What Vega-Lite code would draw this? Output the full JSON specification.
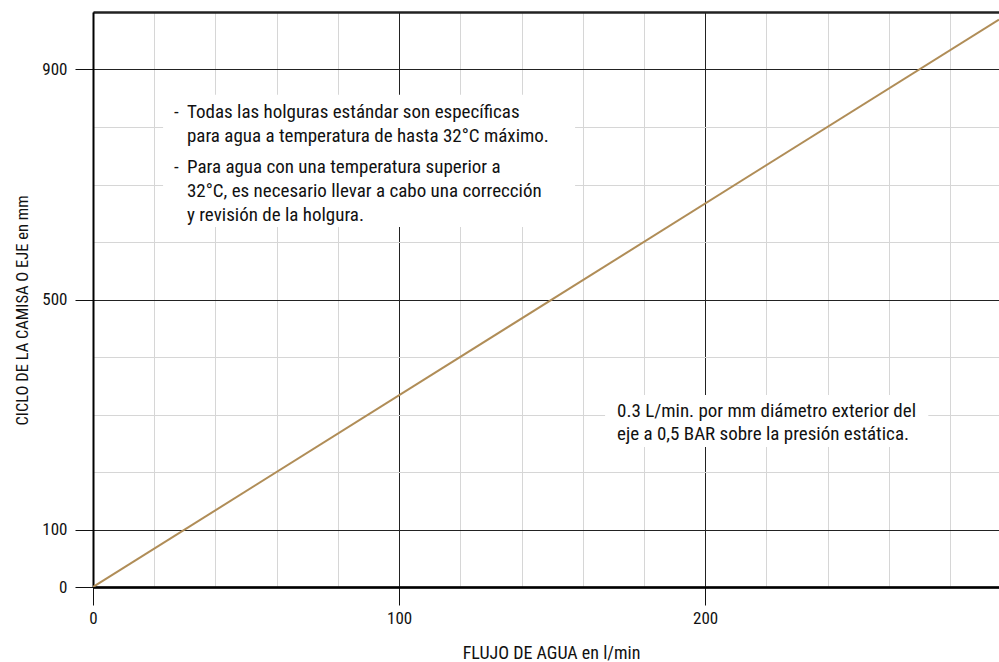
{
  "$schema": "https://vega.github.io/schema/vega-lite/v6.json",
  "width": 906,
  "height": 575,
  "autosize": {"type": "none"},
  "padding": {"left": 93, "top": 12, "right": 0, "bottom": 75},
  "background": "white",
  "config": {
    "view": {"stroke": null},
    "font": "Liberation Sans Narrow, Roboto Condensed, Arial Narrow, sans-serif",
    "text": {"font": "Liberation Sans Narrow, Roboto Condensed, Arial Narrow, sans-serif"}
  },
  "layer": [
    {
      "data": {"values": [{"flujo": 0, "ciclo": 0}, {"flujo": 296, "ciclo": 987}]},
      "mark": {"type": "line", "color": "#B08D57", "strokeWidth": 2, "clip": true},
      "encoding": {
        "x": {
          "field": "flujo",
          "type": "quantitative",
          "scale": {"domain": [0, 296], "nice": false, "zero": true},
          "axis": {
            "title": "FLUJO DE AGUA en l/min",
            "values": [0, 20, 40, 60, 80, 100, 120, 140, 160, 180, 200, 220, 240, 260, 280],
            "labelExpr": "datum.value % 100 === 0 ? datum.label : ''",
            "labelFlush": false,
            "labelOverlap": false,
            "labelFontSize": 17,
            "labelColor": "#111",
            "labelPadding": 5,
            "tickSize": 18,
            "tickColor": "#111",
            "tickWidth": 1,
            "tickOpacity": {"condition": {"test": "datum.value % 100 === 0", "value": 1}, "value": 0},
            "domainColor": "#000",
            "domainWidth": 2,
            "grid": true,
            "gridColor": {"condition": {"test": "datum.value % 100 === 0", "value": "#222"}, "value": "#d6d6d6"},
            "gridWidth": 1,
            "titleFontSize": 18,
            "titleFontWeight": "normal",
            "titleColor": "#111",
            "titleBaseline": "alphabetic",
            "titleX": 458,
            "titleY": 71
          }
        },
        "y": {
          "field": "ciclo",
          "type": "quantitative",
          "scale": {"domain": [0, 1000], "nice": false},
          "axis": {
            "title": "CICLO DE LA CAMISA O EJE en mm",
            "values": [0, 100, 200, 300, 400, 500, 600, 700, 800, 900, 1000],
            "labelExpr": "(datum.value === 0 || datum.value === 100 || datum.value === 500 || datum.value === 900) ? datum.label : ''",
            "labelOverlap": false,
            "labelFontSize": 17,
            "labelColor": "#111",
            "labelPadding": 8,
            "tickSize": 18,
            "tickColor": "#111",
            "tickWidth": 1,
            "tickOpacity": {"condition": {"test": "datum.value === 0 || datum.value === 100 || datum.value === 500 || datum.value === 900", "value": 1}, "value": 0},
            "domainColor": "#000",
            "domainWidth": 2,
            "grid": true,
            "gridColor": {"condition": {"test": "datum.value === 0 || datum.value === 100 || datum.value === 500 || datum.value === 900 || datum.value === 1000", "value": "#222"}, "value": "#d6d6d6"},
            "gridWidth": {"condition": {"test": "datum.value === 1000 || datum.value === 0", "value": 2.5}, "value": 1},
            "titleFontSize": 16.5,
            "titleFontWeight": "normal",
            "titleColor": "#111",
            "titleBaseline": "alphabetic",
            "titleX": -66,
            "titleY": 298
          }
        }
      }
    },
    {
      "data": {"values": [{}]},
      "mark": {"type": "rect", "fill": "white", "stroke": null},
      "encoding": {
        "x": {"datum": 22.9, "type": "quantitative"},
        "x2": {"datum": 157.5},
        "y": {"datum": 626, "type": "quantitative"},
        "y2": {"datum": 856}
      }
    },
    {
      "data": {"values": [{}]},
      "mark": {"type": "rect", "fill": "white", "stroke": null},
      "encoding": {
        "x": {"datum": 167.3, "type": "quantitative"},
        "x2": {"datum": 272.9},
        "y": {"datum": 243.5, "type": "quantitative"},
        "y2": {"datum": 334}
      }
    },
    {
      "data": {"values": [{}]},
      "mark": {"type": "text", "text": "-", "align": "left", "baseline": "alphabetic", "fontSize": 19, "color": "#111"},
      "encoding": {"x": {"datum": 26.5, "type": "quantitative"}, "y": {"datum": 815.7, "type": "quantitative"}}
    },
    {
      "data": {"values": [{}]},
      "mark": {"type": "text", "text": ["Todas las holguras estándar son específicas", "para agua a temperatura de hasta 32°C máximo."], "align": "left", "baseline": "alphabetic", "fontSize": 19, "lineHeight": 24.5, "color": "#111"},
      "encoding": {"x": {"datum": 30.7, "type": "quantitative"}, "y": {"datum": 815.7, "type": "quantitative"}}
    },
    {
      "data": {"values": [{}]},
      "mark": {"type": "text", "text": "-", "align": "left", "baseline": "alphabetic", "fontSize": 19, "color": "#111"},
      "encoding": {"x": {"datum": 26.5, "type": "quantitative"}, "y": {"datum": 720, "type": "quantitative"}}
    },
    {
      "data": {"values": [{}]},
      "mark": {"type": "text", "text": ["Para agua con una temperatura superior a", "32°C, es necesario llevar a cabo una corrección", "y revisión de la holgura."], "align": "left", "baseline": "alphabetic", "fontSize": 19, "lineHeight": 24, "color": "#111"},
      "encoding": {"x": {"datum": 30.7, "type": "quantitative"}, "y": {"datum": 720, "type": "quantitative"}}
    },
    {
      "data": {"values": [{}]},
      "mark": {"type": "text", "text": ["0.3 L/min. por mm diámetro exterior del", "eje a 0,5 BAR sobre la presión estática."], "align": "left", "baseline": "alphabetic", "fontSize": 19, "lineHeight": 23.5, "color": "#111"},
      "encoding": {"x": {"datum": 171.2, "type": "quantitative"}, "y": {"datum": 295.7, "type": "quantitative"}}
    }
  ]
}
